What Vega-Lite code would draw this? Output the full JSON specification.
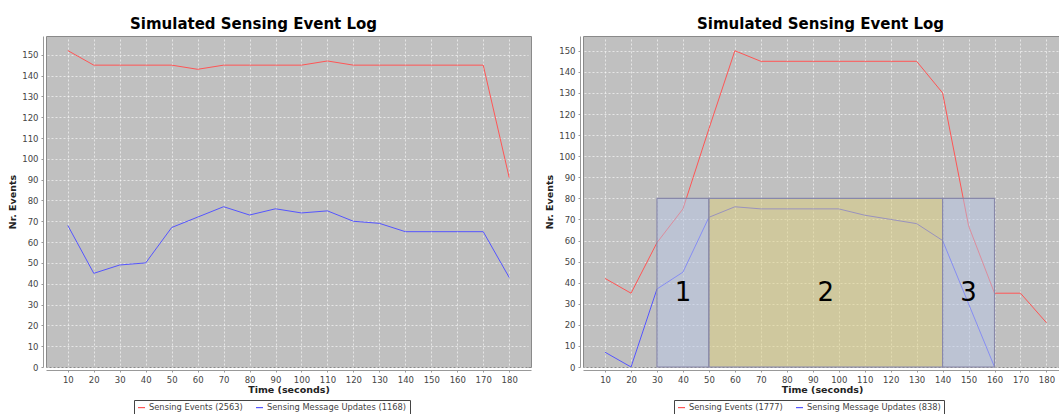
{
  "$schema": "https://vega.github.io/schema/vega-lite/v6.json",
  "background": "white",
  "padding": {"left": 7, "top": 16, "right": 0, "bottom": 0},
  "bounds": "flush",
  "spacing": 52,
  "config": {
    "font": "DejaVu Sans",
    "view": {"fill": "#c0c0c0", "stroke": "#8a8a8a", "strokeWidth": 1},
    "axis": {
      "labelFont": "DejaVu Sans", "labelFontSize": 8.5, "labelColor": "#444",
      "titleFont": "DejaVu Sans", "titleFontSize": 9.5, "titleFontWeight": "bold", "titleColor": "#222",
      "domainColor": "#999", "tickColor": "#999", "tickSize": 2,
      "gridColor": "#ffffff", "gridOpacity": 0.6, "gridDash": [2, 2], "gridWidth": 1,
      "offset": 3, "labelPadding": 3
    },
    "axisX": {"titlePadding": 1},
    "title": {"font": "DejaVu Sans", "fontSize": 15, "fontWeight": "bold", "color": "#000", "anchor": "start", "frame": "group"},
    "legend": {
      "labelFont": "DejaVu Sans", "labelFontSize": 8.3, "labelColor": "#444",
      "symbolType": "stroke", "symbolSize": 49, "symbolStrokeWidth": 1.2,
      "strokeColor": "#444", "fillColor": "#ffffff", "padding": 3, "columnSpacing": 7, "labelOffset": 3
    }
  },
  "resolve": {"scale": {"color": "independent"}, "legend": {"color": "independent"}},
  "hconcat": [
    {
      "width": 485,
      "height": 331,
      "title": {"text": "Simulated Sensing Event Log", "dx": 84, "offset": 4},
      "data": {"values": [
        {"t": 10, "series": "Sensing Events (2563)", "v": 152},
        {"t": 20, "series": "Sensing Events (2563)", "v": 145},
        {"t": 30, "series": "Sensing Events (2563)", "v": 145},
        {"t": 40, "series": "Sensing Events (2563)", "v": 145},
        {"t": 50, "series": "Sensing Events (2563)", "v": 145},
        {"t": 60, "series": "Sensing Events (2563)", "v": 143},
        {"t": 70, "series": "Sensing Events (2563)", "v": 145},
        {"t": 80, "series": "Sensing Events (2563)", "v": 145},
        {"t": 90, "series": "Sensing Events (2563)", "v": 145},
        {"t": 100, "series": "Sensing Events (2563)", "v": 145},
        {"t": 110, "series": "Sensing Events (2563)", "v": 147},
        {"t": 120, "series": "Sensing Events (2563)", "v": 145},
        {"t": 130, "series": "Sensing Events (2563)", "v": 145},
        {"t": 140, "series": "Sensing Events (2563)", "v": 145},
        {"t": 150, "series": "Sensing Events (2563)", "v": 145},
        {"t": 160, "series": "Sensing Events (2563)", "v": 145},
        {"t": 170, "series": "Sensing Events (2563)", "v": 145},
        {"t": 180, "series": "Sensing Events (2563)", "v": 91},
        {"t": 10, "series": "Sensing Message Updates (1168)", "v": 68},
        {"t": 20, "series": "Sensing Message Updates (1168)", "v": 45},
        {"t": 30, "series": "Sensing Message Updates (1168)", "v": 49},
        {"t": 40, "series": "Sensing Message Updates (1168)", "v": 50},
        {"t": 50, "series": "Sensing Message Updates (1168)", "v": 67},
        {"t": 60, "series": "Sensing Message Updates (1168)", "v": 72},
        {"t": 70, "series": "Sensing Message Updates (1168)", "v": 77},
        {"t": 80, "series": "Sensing Message Updates (1168)", "v": 73},
        {"t": 90, "series": "Sensing Message Updates (1168)", "v": 76},
        {"t": 100, "series": "Sensing Message Updates (1168)", "v": 74},
        {"t": 110, "series": "Sensing Message Updates (1168)", "v": 75},
        {"t": 120, "series": "Sensing Message Updates (1168)", "v": 70},
        {"t": 130, "series": "Sensing Message Updates (1168)", "v": 69},
        {"t": 140, "series": "Sensing Message Updates (1168)", "v": 65},
        {"t": 150, "series": "Sensing Message Updates (1168)", "v": 65},
        {"t": 160, "series": "Sensing Message Updates (1168)", "v": 65},
        {"t": 170, "series": "Sensing Message Updates (1168)", "v": 65},
        {"t": 180, "series": "Sensing Message Updates (1168)", "v": 43}
      ]},
      "mark": {"type": "line", "strokeWidth": 1, "clip": true},
      "encoding": {
        "x": {"field": "t", "type": "quantitative",
          "scale": {"domain": [1.6, 188.4], "nice": false, "zero": false},
          "axis": {"title": "Time (seconds)", "values": [10,20,30,40,50,60,70,80,90,100,110,120,130,140,150,160,170,180], "labelFlush": false, "labelOverlap": false}},
        "y": {"field": "v", "type": "quantitative",
          "scale": {"domain": [0, 159], "nice": false},
          "axis": {"title": "Nr. Events", "values": [0,10,20,30,40,50,60,70,80,90,100,110,120,130,140,150], "labelFlush": false, "labelOverlap": false}},
        "color": {"field": "series", "type": "nominal",
          "scale": {"domain": ["Sensing Events (2563)", "Sensing Message Updates (1168)"], "range": ["#ff5555", "#5555ff"]},
          "legend": {"title": null, "orient": "none", "legendX": 88, "legendY": 364, "direction": "horizontal", "columns": 2}}
      }
    },
    {
      "width": 478,
      "height": 331,
      "title": {"text": "Simulated Sensing Event Log", "dx": 114, "offset": 4},
      "encoding": {
        "x": {"field": "t", "type": "quantitative",
          "scale": {"domain": [1.5, 185.6], "nice": false, "zero": false},
          "axis": {"title": "Time (seconds)", "values": [10,20,30,40,50,60,70,80,90,100,110,120,130,140,150,160,170,180], "labelFlush": false, "labelOverlap": false}},
        "y": {"field": "v", "type": "quantitative",
          "scale": {"domain": [0, 157], "nice": false},
          "axis": {"title": "Nr. Events", "values": [0,10,20,30,40,50,60,70,80,90,100,110,120,130,140,150], "labelFlush": false, "labelOverlap": false}}
      },
      "layer": [
        {
          "data": {"values": [
            {"t": 10, "series": "Sensing Events (1777)", "v": 42},
            {"t": 20, "series": "Sensing Events (1777)", "v": 35},
            {"t": 30, "series": "Sensing Events (1777)", "v": 59},
            {"t": 40, "series": "Sensing Events (1777)", "v": 75},
            {"t": 50, "series": "Sensing Events (1777)", "v": 113},
            {"t": 60, "series": "Sensing Events (1777)", "v": 150},
            {"t": 70, "series": "Sensing Events (1777)", "v": 145},
            {"t": 80, "series": "Sensing Events (1777)", "v": 145},
            {"t": 90, "series": "Sensing Events (1777)", "v": 145},
            {"t": 100, "series": "Sensing Events (1777)", "v": 145},
            {"t": 110, "series": "Sensing Events (1777)", "v": 145},
            {"t": 120, "series": "Sensing Events (1777)", "v": 145},
            {"t": 130, "series": "Sensing Events (1777)", "v": 145},
            {"t": 140, "series": "Sensing Events (1777)", "v": 130},
            {"t": 150, "series": "Sensing Events (1777)", "v": 67},
            {"t": 160, "series": "Sensing Events (1777)", "v": 35},
            {"t": 170, "series": "Sensing Events (1777)", "v": 35},
            {"t": 180, "series": "Sensing Events (1777)", "v": 21},
            {"t": 10, "series": "Sensing Message Updates (838)", "v": 7},
            {"t": 20, "series": "Sensing Message Updates (838)", "v": 0},
            {"t": 30, "series": "Sensing Message Updates (838)", "v": 37},
            {"t": 40, "series": "Sensing Message Updates (838)", "v": 45},
            {"t": 50, "series": "Sensing Message Updates (838)", "v": 71},
            {"t": 60, "series": "Sensing Message Updates (838)", "v": 76},
            {"t": 70, "series": "Sensing Message Updates (838)", "v": 75},
            {"t": 80, "series": "Sensing Message Updates (838)", "v": 75},
            {"t": 90, "series": "Sensing Message Updates (838)", "v": 75},
            {"t": 100, "series": "Sensing Message Updates (838)", "v": 75},
            {"t": 110, "series": "Sensing Message Updates (838)", "v": 72},
            {"t": 120, "series": "Sensing Message Updates (838)", "v": 70},
            {"t": 130, "series": "Sensing Message Updates (838)", "v": 68},
            {"t": 140, "series": "Sensing Message Updates (838)", "v": 60},
            {"t": 150, "series": "Sensing Message Updates (838)", "v": 30},
            {"t": 160, "series": "Sensing Message Updates (838)", "v": 0}
          ]},
          "mark": {"type": "line", "strokeWidth": 1, "clip": true},
          "encoding": {
            "color": {"field": "series", "type": "nominal",
              "scale": {"domain": ["Sensing Events (1777)", "Sensing Message Updates (838)"], "range": ["#ff5555", "#5555ff"]},
              "legend": {"title": null, "orient": "none", "legendX": 91, "legendY": 364, "direction": "horizontal", "columns": 2}}
          }
        },
        {
          "data": {"values": [
            {"t": 30, "t2": 50, "v": 0, "v2": 80, "region": "1"},
            {"t": 50, "t2": 140, "v": 0, "v2": 80, "region": "2"},
            {"t": 140, "t2": 160, "v": 0, "v2": 80, "region": "3"}
          ]},
          "mark": {"type": "rect", "stroke": "#8888aa", "strokeWidth": 1.2, "fillOpacity": 0.5},
          "encoding": {
            "x2": {"field": "t2"},
            "y2": {"field": "v2"},
            "fill": {"field": "region", "type": "nominal",
              "scale": {"domain": ["1", "2", "3"], "range": ["#b8c6e6", "#ded07c", "#b8c6e6"]},
              "legend": null}
          }
        },
        {
          "data": {"values": [
            {"t": 40, "v": 35, "label": "1"},
            {"t": 95, "v": 35, "label": "2"},
            {"t": 150, "v": 35, "label": "3"}
          ]},
          "mark": {"type": "text", "fontSize": 26, "baseline": "middle", "align": "center", "color": "#000", "font": "DejaVu Sans"},
          "encoding": {
            "text": {"field": "label"}
          }
        }
      ]
    }
  ]
}
